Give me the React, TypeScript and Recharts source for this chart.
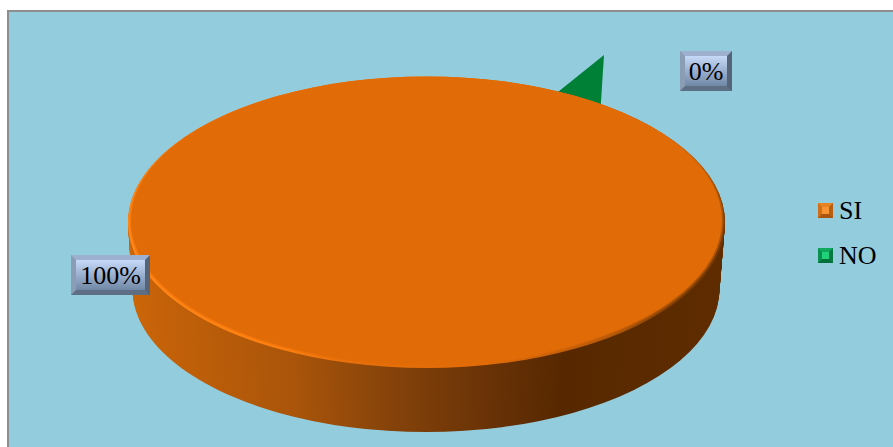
import { Pie, PieChart } from "recharts";

const categories = ["SI", "NO"];
const seriesValues = [99.6, 0.4];
const colors = ["#E16B07", "#007F37"];

const W = 893;
const H = 447;
const RX = 298.5;
const SQUASH = 145.5 / RX; // pie is drawn round, then flattened with a CSS scale
const chartY = (y: number) => y / SQUASH;

const total = seriesValues.reduce((a, b) => a + b, 0);
const percentText = (i: number) => `${Math.round((seriesValues[i] / total) * 100)}%`;

const siData = [{ name: categories[0], value: seriesValues[0] }];
const noData = [{ name: categories[1], value: seriesValues[1] }];

// extrusion of the disc: same slice repeated from the bottom edge up to the top face
const LAYERS = 46;
const layers = Array.from({ length: LAYERS }, (_, i) => {
    const t = 1 - i / (LAYERS - 1);
    return { cy: chartY(222.5 + 66.5 * t), cx: 426.5 - 0.5 * t, r: RX - 5 * t };
});

function ValueLabel({ text, left, top, width }: { text: string; left: number; top: number; width: number }) {
    return (
        <div
            style={{
                position: "absolute",
                left,
                top,
                width,
                height: 40,
                boxSizing: "border-box",
                borderStyle: "solid",
                borderWidth: 5,
                borderColor: "#9db0d0 #56647a #5e6e85 #8b9cb5",
                background: "linear-gradient(#c6d9f8, #7087a5)",
                fontFamily: "'Liberation Serif', serif",
                fontSize: 26,
                lineHeight: "31px",
                textAlign: "center",
                color: "#000",
                whiteSpace: "nowrap",
            }}
        >
            {text}
        </div>
    );
}

function LegendItem({ name, top, colorSet }: { name: string; top: number; colorSet: string[] }) {
    return (
        <>
            <div
                style={{
                    position: "absolute",
                    left: 818,
                    top,
                    width: 15,
                    height: 15,
                    boxSizing: "border-box",
                    borderStyle: "solid",
                    borderWidth: 4,
                    borderColor: `${colorSet[0]} ${colorSet[1]} ${colorSet[2]} ${colorSet[3]}`,
                    background: colorSet[4],
                }}
            />
            <div
                style={{
                    position: "absolute",
                    left: 839,
                    top: top - 7,
                    fontFamily: "'Liberation Serif', serif",
                    fontSize: 26,
                    lineHeight: "30px",
                    color: "#000",
                }}
            >
                {name}
            </div>
        </>
    );
}

const siMarker = ["#E8811F", "#B85E12", "#A95410", "#CF6F18", "#F79235"];
const noMarker = ["#0FA85C", "#067A42", "#05703B", "#0A9150", "#1FD27A"];

export default function App() {
    return (
        <div style={{ position: "absolute", left: 0, top: 0, width: W, height: H, overflow: "hidden", background: "#fff" }}>
            <div
                style={{
                    position: "absolute",
                    left: 7,
                    top: 10,
                    width: W + 20,
                    height: H + 20,
                    background: "#93CDDD",
                    border: "2px solid #8e8e8e",
                }}
            />
            <div style={{ position: "absolute", left: 0, top: 0, transform: `scaleY(${SQUASH})`, transformOrigin: "0 0" }}>
                <PieChart width={W} height={chartY(H)} margin={{ top: 0, right: 0, bottom: 0, left: 0 }}>
                    <defs>
                        <linearGradient id="side" x1="0" y1="0" x2="1" y2="0">
                            <stop offset="0" stopColor="#CB6509" />
                            <stop offset="0.285" stopColor="#A8540A" />
                            <stop offset="0.45" stopColor="#83420A" />
                            <stop offset="0.63" stopColor="#653006" />
                            <stop offset="0.73" stopColor="#572800" />
                            <stop offset="1" stopColor="#5F2C00" />
                        </linearGradient>
                        <linearGradient id="rim" x1="0" y1="0.3" x2="1" y2="0.6">
                            <stop offset="0" stopColor="#FF8A1A" />
                            <stop offset="0.4" stopColor="#FF8010" />
                            <stop offset="0.52" stopColor="#E8700A" />
                            <stop offset="0.74" stopColor="#E16B07" />
                            <stop offset="0.9" stopColor="#B85A08" />
                            <stop offset="1" stopColor="#6E3500" />
                        </linearGradient>
                        <linearGradient id="rimSoft" x1="0" y1="0.3" x2="1" y2="0.6">
                            <stop offset="0" stopColor="#F57A10" />
                            <stop offset="0.4" stopColor="#F2760C" />
                            <stop offset="0.52" stopColor="#E46D08" />
                            <stop offset="0.8" stopColor="#E16B07" />
                            <stop offset="1" stopColor="#A85207" />
                        </linearGradient>
                    </defs>
                    <Pie
                        data={noData}
                        dataKey="value"
                        cx={604}
                        cy={chartY(55)}
                        innerRadius={0}
                        outerRadius={140}
                        startAngle={-121.2}
                        endAngle={-91.8}
                        fill={colors[1]}
                        stroke="none"
                        isAnimationActive={false}
                    />
                    {layers.map((l, i) => (
                        <Pie
                            key={i}
                            data={siData}
                            dataKey="value"
                            cx={l.cx}
                            cy={l.cy}
                            innerRadius={0}
                            outerRadius={l.r}
                            startAngle={0}
                            endAngle={360}
                            fill="url(#side)"
                            stroke="none"
                            isAnimationActive={false}
                        />
                    ))}
                    <Pie
                        data={siData}
                        dataKey="value"
                        cx={426.5}
                        cy={chartY(222.5)}
                        innerRadius={0}
                        outerRadius={RX}
                        startAngle={0}
                        endAngle={360}
                        fill="url(#rim)"
                        stroke="none"
                        isAnimationActive={false}
                    />
                    <Pie
                        data={siData}
                        dataKey="value"
                        cx={426.5}
                        cy={chartY(221.2)}
                        innerRadius={0}
                        outerRadius={RX - 1.5}
                        startAngle={0}
                        endAngle={360}
                        fill="url(#rimSoft)"
                        stroke="none"
                        isAnimationActive={false}
                    />
                    <Pie
                        data={siData}
                        dataKey="value"
                        cx={426.5}
                        cy={chartY(220.5)}
                        innerRadius={0}
                        outerRadius={RX - 3}
                        startAngle={0}
                        endAngle={360}
                        fill={colors[0]}
                        stroke="none"
                        isAnimationActive={false}
                    />
                </PieChart>
            </div>
            <ValueLabel text={percentText(1)} left={680} top={51} width={52} />
            <ValueLabel text={percentText(0)} left={71} top={255} width={79} />
            <LegendItem name={categories[0]} top={203} colorSet={siMarker} />
            <LegendItem name={categories[1]} top={248} colorSet={noMarker} />
        </div>
    );
}
